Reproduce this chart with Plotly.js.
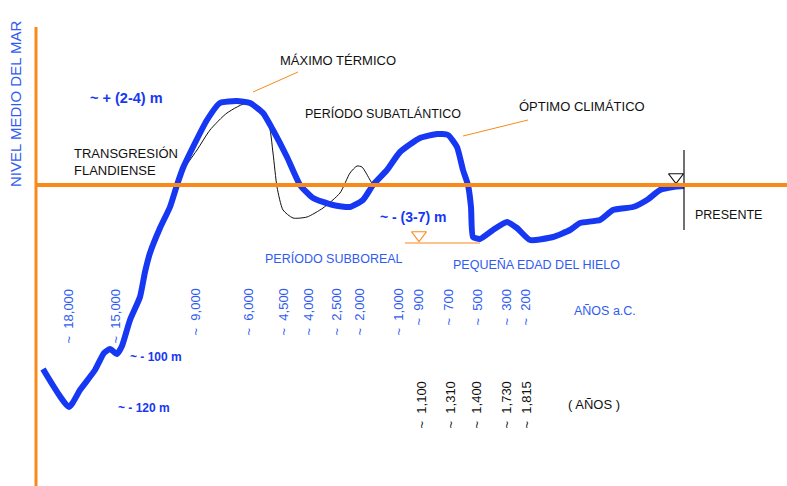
<!DOCTYPE html>
<html>
<head>
<meta charset="utf-8">
<script src="https://cdn.plot.ly/plotly-3.0.1.min.js"></script>
<style>
  html, body { margin: 0; padding: 0; background: #fff; }
  #graph { width: 787px; height: 486px; }
</style>
</head>
<body>
<div id="graph"></div>
<script>
// timeline position (x) and sea level relative to today's mean (y, 0 = present level)
var levelX = [7, 33, 44, 59, 68, 74, 81, 86, 94, 104, 109, 114, 124, 134, 141, 147, 157, 171, 184, 201,
  214, 227, 237, 251, 264, 277, 297, 314, 327, 337, 351, 364, 384, 401, 412, 421, 427, 432, 435, 437,
  444, 457, 471, 481, 494, 517, 534, 544, 564, 577, 597, 611, 624, 637, 648];
var levelY = [-184, -222, -205, -185, -168, -164, -169, -161, -135, -112, -87, -68, -43, -22, 0, 17, 38, 65, 82, 84,
  82, 72, 55, 28, 0, -13, -20, -22, -15, 0, 15, 33, 47, 51, 50, 38, 15, 0, -22, -52,
  -54, -45, -37, -43, -55, -52, -45, -38, -35, -25, -22, -15, -5, -2, -1];

// alternative (thin) curve for the Flandrian transgression
var altX = [149, 161, 174, 191, 212, 232, 237, 241, 247, 257, 271, 287, 304, 314, 321, 326, 334, 337];
var altY = [18, 35, 55, 72, 82, 63, 32, -2, -25, -33, -32, -23, -8, 12, 19, 18, 5, 0];

// years before Christ, and their positions on the timeline
var bcLabels = ["18,000", "15,000", "9,000", "6,000", "4,500", "4,000", "2,500", "2,000",
  "1,000", "900", "700", "500", "300", "200"];
var bcPos = [32, 79, 159, 212, 247, 272, 300, 323, 362, 382, 412, 441, 470, 489];

// calendar years (AD)
var adLabels = ["1,100", "1,310", "1,400", "1,730", "1,815"];
var adPos = [385, 414, 440, 470, 490];

// sub-boreal low stand and present level
var lowStandX = [369, 444];
var lowStandY = [-58, -58];
var lowMarkX = [383];
var lowMarkY = [-50];
var presentX = [648, 648];
var presentY = [35, -45];
var presentMarkX = [640];
var presentMarkY = [8];

var blue = "#1638f2";
var textBlue = "#2f5cf0";
var orange = "#f98a1a";
var font = "Liberation Sans, Arial, sans-serif";

var data = [
  {x: altX, y: altY, mode: "lines", line: {color: "#111", width: 1, shape: "spline", smoothing: 0.6},
   hoverinfo: "skip"},
  {x: levelX, y: levelY, mode: "lines", line: {color: blue, width: 6, shape: "spline", smoothing: 0.5},
   hoverinfo: "skip"},
  {x: lowStandX, y: lowStandY, mode: "lines", line: {color: orange, width: 1.2}, hoverinfo: "skip"},
  {x: lowMarkX, y: lowMarkY, mode: "markers",
   marker: {symbol: "triangle-down-open", size: 13, color: orange, line: {width: 1.2}}, hoverinfo: "skip"},
  {x: presentX, y: presentY, mode: "lines", line: {color: "#111", width: 1.2}, hoverinfo: "skip"},
  {x: presentMarkX, y: presentMarkY, mode: "markers",
   marker: {symbol: "triangle-down-open", size: 13, color: "#111", line: {width: 1.2}}, hoverinfo: "skip"}
];

var annotations = [];
function label(text, x, y, opts) {
  var a = {text: text, x: x, y: y, xref: "x", yref: "y", showarrow: false,
    font: {family: font, size: 12.5, color: "#111"}, xanchor: "center", yanchor: "middle"};
  for (var k in opts) a[k] = opts[k];
  annotations.push(a);
}

label("NIVEL MEDIO DEL MAR", -21, 81, {textangle: -90, font: {family: font, size: 15, color: textBlue}});
label("MÁXIMO TÉRMICO", 242, 125, {xanchor: "left", font: {family: font, size: 13, color: "#111"}});
label("<b>~ + (2-4) m</b>", 90, 87, {font: {family: font, size: 14.5, color: blue}});
label("PERÍODO SUBATLÁNTICO", 347, 72);
label("ÓPTIMO CLIMÁTICO", 481, 79, {xanchor: "left", font: {family: font, size: 13, color: "#111"}});
label("TRANSGRESIÓN<br>FLANDIENSE", 36, 23, {xanchor: "left", align: "left", font: {family: font, size: 13, color: "#111"}});
label("<b>~ - (3-7) m</b>", 377, -32, {font: {family: font, size: 14, color: blue}});
label("PRESENTE", 657, -30, {xanchor: "left"});
label("PERÍODO SUBBOREAL", 298, -73, {font: {family: font, size: 12.5, color: textBlue}});
label("PEQUEÑA EDAD DEL HIELO", 500, -80, {font: {family: font, size: 12.5, color: textBlue}});
label("AÑOS a.C.", 569, -126, {font: {family: font, size: 12.5, color: textBlue}});
label("<b>~ - 100 m</b>", 92, -172, {xanchor: "left", font: {family: font, size: 12, color: blue}});
label("<b>~ - 120 m</b>", 80, -223, {xanchor: "left", font: {family: font, size: 12, color: blue}});
label("( AÑOS )", 530, -219, {xanchor: "left", font: {family: font, size: 13, color: "#111"}});

bcLabels.forEach(function (t, i) {
  label("~  " + t, bcPos[i], -102, {textangle: -90, yanchor: "top",
    font: {family: font, size: 13, color: textBlue}});
});
adLabels.forEach(function (t, i) {
  label("~  " + t, adPos[i], -195, {textangle: -90, yanchor: "top",
    font: {family: font, size: 13, color: "#111"}});
});

var layout = {
  width: 787, height: 486,
  margin: {l: 0, r: 0, t: 0, b: 0},
  paper_bgcolor: "#fff", plot_bgcolor: "#fff",
  showlegend: false,
  xaxis: {range: [-36, 751], visible: false, fixedrange: true},
  yaxis: {range: [-301, 185], visible: false, fixedrange: true},
  shapes: [
    {type: "line", xref: "x", yref: "y", x0: 0, x1: 0, y0: 158, y1: -301, line: {color: orange, width: 3}},
    {type: "line", xref: "x", yref: "y", x0: 0, x1: 751, y0: 0, y1: 0, line: {color: orange, width: 4}},
    {type: "line", xref: "x", yref: "y", x0: 217, x1: 262, y0: 93, y1: 113, line: {color: orange, width: 1}},
    {type: "line", xref: "x", yref: "y", x0: 427, x1: 492, y0: 49, y1: 65, line: {color: orange, width: 1}}
  ],
  annotations: annotations
};

Plotly.newPlot("graph", data, layout, {displayModeBar: false, staticPlot: true});
</script>
</body>
</html>
